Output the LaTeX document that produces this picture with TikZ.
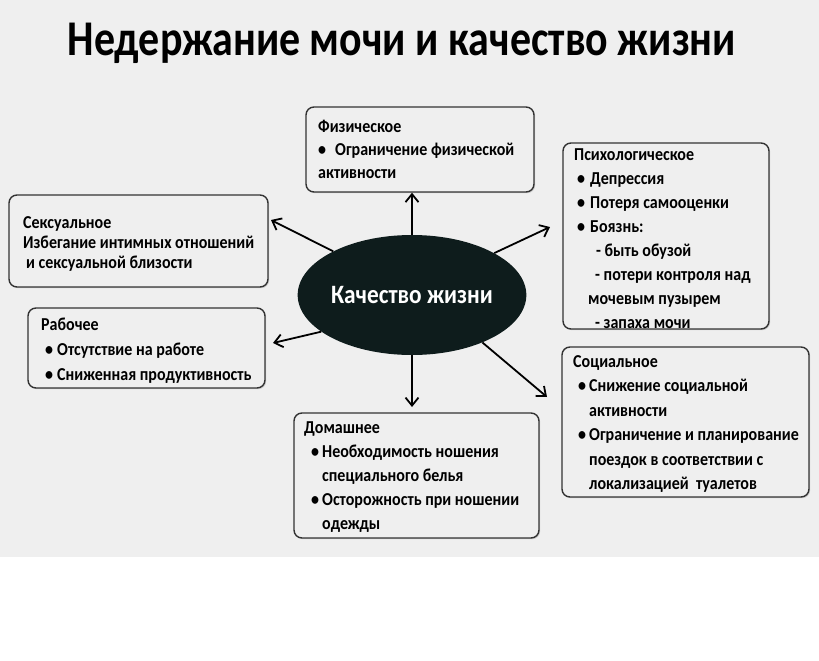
\documentclass[tikz,border=0pt]{standalone}
\usepackage{fontspec}
\usepackage{graphicx}
\setmainfont{Carlito}[FakeStretch=0.88]
\usetikzlibrary{arrows.meta,shapes.geometric,shadows}
\definecolor{bg}{HTML}{EFEFEF}
\definecolor{dark}{HTML}{0E1C1C}
\definecolor{edge}{HTML}{333333}
\newcommand\blines[2]{\vtop{\baselineskip=#1\relax\lineskiplimit=-20pt #2}}
\newcommand\bul[1]{\makebox[#1][l]{•}}
\begin{document}
\begin{tikzpicture}[x=1pt,y=-1pt,
  box/.style={draw=edge, line width=1.4pt, rounded corners=8pt, fill=bg, inner sep=0,
    drop shadow={opacity=0.3, shadow xshift=1.2pt, shadow yshift=-1.2pt}},
  txt/.style={anchor=base west, inner sep=0, font=\bfseries\fontsize{18.2}{24}\selectfont},
  arr/.style={line width=1.8pt, -{Straight Barb[length=8pt,width=13pt,line width=1.8pt]}}]
\fill[bg] (0,0) rectangle (819,557);
\fill[white] (0,557) rectangle (819,661);
\useasboundingbox (0,0) rectangle (819,661);

\node[anchor=base, inner sep=0, font=\bfseries\fontsize{50}{52}\selectfont] (title) at (402,56) {\scalebox{0.953}[1]{Недержание мочи и качество жизни}};

% boxes
\node[box, minimum width=228, minimum height=85] (phys) at (420,149.5) {};
\node[box, minimum width=206, minimum height=186] (psy) at (666,236) {};
\node[box, minimum width=259, minimum height=92] (sex) at (138.5,241) {};
\node[box, minimum width=237, minimum height=80] (work) at (146.5,348) {};
\node[box, minimum width=245, minimum height=125] (home) at (416.5,475.5) {};
\node[box, minimum width=247, minimum height=150] (soc) at (685.5,422) {};

% texts
\node[txt] (physT) at (318,132) {\blines{23pt}{%
  \hbox{Физическое}
  \hbox{\bul{17pt}Ограничение физической}
  \hbox{активности}}};
\node[txt] (psyT) at (574,160) {\blines{24pt}{%
  \hbox{Психологическое}
  \hbox{\kern3pt\bul{13pt}Депрессия}
  \hbox{\kern3pt\bul{13pt}Потеря самооценки}
  \hbox{\kern3pt\bul{13pt}Боязнь:}
  \hbox{\kern22pt - быть обузой}
  \hbox{\kern21pt - потери контроля над}
  \hbox{\kern14pt мочевым пузырем}
  \hbox{\kern21pt - запаха мочи}}};
\node[txt] (sexT) at (23,228) {\blines{20pt}{%
  \hbox{Сексуальное}
  \hbox{Избегание интимных отношений}
  \hbox{\kern3pt и сексуальной близости}}};
\node[txt] (workT) at (41,330) {\blines{25pt}{%
  \hbox{Рабочее}
  \hbox{\kern4pt\bul{12pt}Отсутствие на работе}
  \hbox{\kern4pt\bul{12pt}Сниженная продуктивность}}};
\node[txt] (homeT) at (304,433) {\blines{24pt}{%
  \hbox{Домашнее}
  \hbox{\kern7pt\bul{11pt}Необходимость ношения}
  \hbox{\kern18pt специального белья}
  \hbox{\kern7pt\bul{11pt}Осторожность при ношении}
  \hbox{\kern18pt одежды}}};
\node[txt] (socT) at (573,367) {\blines{24.5pt}{%
  \hbox{Социальное}
  \hbox{\kern5pt\bul{11pt}Снижение социальной}
  \hbox{\kern16pt активности}
  \hbox{\kern5pt\bul{11pt}Ограничение и планирование}
  \hbox{\kern16pt поездок в соответствии с}
  \hbox{\kern16pt локализацией\ \ туалетов}}};

% central ellipse
\node[ellipse, fill=dark, minimum width=214, minimum height=120, inner sep=0,
  text=white, font=\bfseries\fontsize{26.5}{30}\selectfont] (q) at (412,295) {Качество жизни};

% free arrow tips
\coordinate (tHome) at (412,407);
\coordinate (tPsy) at (550,227);
\coordinate (tSoc) at (547,397);
\coordinate (tSex) at (271,220);
\coordinate (tWork) at (273,343);

\draw[arr] (q.north) -- (q.north |- phys.south);
\draw[arr] (q.south) -- (tHome);
\draw[arr] (q.27) -- (tPsy);
\draw[arr] (q.-34) -- (tSoc);
\draw[arr] (q.151) -- (tSex);
\draw[arr] (q.202) -- (tWork);
\end{tikzpicture}
\end{document}
